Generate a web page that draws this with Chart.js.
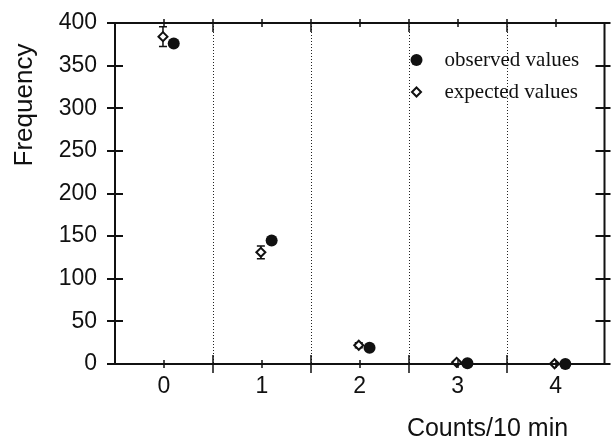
<!DOCTYPE html>
<html>
<head>
<meta charset="utf-8">
<script src="https://cdn.jsdelivr.net/npm/chart.js@4.4.1/dist/chart.umd.min.js"></script>
<style>
  html, body { margin: 0; padding: 0; background: #fff; }
</style>
</head>
<body>
<canvas id="poisson-chart" width="611" height="441"></canvas>
<script>
// ---------------------------------------------------
// DATA
// ---------------------------------------------------
const counts = [ 0, 1, 2, 3, 4 ];
const observedValues = [ 376, 145, 19, 1, 0 ];
const expectedValues = [ 384, 131, 22, 2, 0.3 ];
const expectedErrors = [ 11.5, 7.5, 3, 0.5, 0 ];
const yTicks = [ 0, 50, 100, 150, 200, 250, 300, 350, 400 ];
const separators = [ 0.5, 1.5, 2.5, 3.5 ];
const legendLabels = [ 'observed values', 'expected values' ];
// ---------------------------------------------------
const obsShift = 0.1;
const expShift = -0.01;
const ink = '#111';
// ---------------------------------------------------
const framePlugin = {
    id: 'frame',
    beforeDatasetsDraw( chart ) {
        const { ctx, chartArea: a, scales: { x, y } } = chart;
        ctx.save();
        // dotted separators between counts
        ctx.strokeStyle = '#222';
        ctx.lineWidth = 1;
        ctx.setLineDash( [ 1, 2 ] );
        separators.forEach( v => {
            const px = Math.round( x.getPixelForValue( v ) ) + 0.5;
            ctx.beginPath();
            ctx.moveTo( px, a.top );
            ctx.lineTo( px, a.bottom );
            ctx.stroke();
        });
        ctx.setLineDash( [] );
        // error bars on expected values
        ctx.strokeStyle = ink;
        ctx.lineWidth = 1.5;
        expectedValues.forEach( ( v, i ) => {
            const e = expectedErrors[ i ];
            if ( !e ) return;
            const px = x.getPixelForValue( counts[ i ] + expShift );
            const y1 = y.getPixelForValue( v + e );
            const y2 = y.getPixelForValue( v - e );
            ctx.beginPath();
            ctx.moveTo( px, y1 ); ctx.lineTo( px, y2 );
            ctx.moveTo( px - 4, y1 ); ctx.lineTo( px + 4, y1 );
            ctx.moveTo( px - 4, y2 ); ctx.lineTo( px + 4, y2 );
            ctx.stroke();
        });
        ctx.restore();
    },
    afterDraw( chart ) {
        const { ctx, chartArea: a, scales: { x, y } } = chart;
        ctx.save();
        ctx.strokeStyle = ink;
        ctx.lineWidth = 2;
        ctx.strokeRect( a.left, a.top, a.right - a.left, a.bottom - a.top );
        // y ticks, both sides
        yTicks.forEach( v => {
            const py = Math.round( y.getPixelForValue( v ) );
            ctx.beginPath();
            ctx.moveTo( a.left - 8, py ); ctx.lineTo( a.left + 8, py );
            ctx.moveTo( a.right - 9, py ); ctx.lineTo( a.right + 6, py );
            ctx.stroke();
        });
        // x ticks, top and bottom
        ctx.lineWidth = 1.5;
        counts.forEach( v => {
            const px = Math.round( x.getPixelForValue( v ) );
            ctx.beginPath();
            ctx.moveTo( px, a.bottom - 4 ); ctx.lineTo( px, a.bottom + 4 );
            ctx.moveTo( px, a.top - 4 ); ctx.lineTo( px, a.top + 4 );
            ctx.stroke();
        });
        separators.forEach( v => {
            const px = Math.round( x.getPixelForValue( v ) );
            ctx.beginPath();
            ctx.moveTo( px, a.bottom - 9 ); ctx.lineTo( px, a.bottom + 9 );
            ctx.moveTo( px, a.top - 4 ); ctx.lineTo( px, a.top + 9 );
            ctx.stroke();
        });
        // axis titles
        ctx.fillStyle = ink;
        ctx.font = '25px "Liberation Sans", Arial, sans-serif';
        ctx.textAlign = 'center';
        ctx.textBaseline = 'middle';
        ctx.fillText( 'Counts/10 min', a.right - 117, 429 );
        ctx.font = '26px "Liberation Sans", Arial, sans-serif';
        ctx.translate( 25, a.top + 82 );
        ctx.rotate( -Math.PI / 2 );
        ctx.fillText( 'Frequency', 0, 0 );
        ctx.setTransform( 1, 0, 0, 1, 0, 0 );
        // legend inside plot
        const lx = a.right - 188;
        const ly = [ a.top + 37, a.top + 69 ];
        ctx.beginPath();
        ctx.arc( lx, ly[ 0 ], 6, 0, Math.PI * 2 );
        ctx.fill();
        ctx.beginPath();
        ctx.moveTo( lx, ly[ 1 ] - 4.5 ); ctx.lineTo( lx + 4.5, ly[ 1 ] );
        ctx.lineTo( lx, ly[ 1 ] + 4.5 ); ctx.lineTo( lx - 4.5, ly[ 1 ] );
        ctx.closePath();
        ctx.fillStyle = '#fff';
        ctx.fill();
        ctx.lineWidth = 2;
        ctx.stroke();
        ctx.fillStyle = ink;
        ctx.font = '21px "Liberation Serif", "Times New Roman", serif';
        ctx.textAlign = 'left';
        legendLabels.forEach( ( t, i ) => ctx.fillText( t, lx + 28, ly[ i ] ) );
        ctx.restore();
    }
};
// ---------------------------------------------------
window.addEventListener( 'load', function () {
    const canvas = document.querySelector( '#poisson-chart' );
    new Chart( canvas, {
        type: 'scatter',
        data: {
            datasets: [
                {
                    label: legendLabels[ 1 ],
                    data: counts.map( ( c, i ) => ({ x: c + expShift, y: expectedValues[ i ] }) ),
                    pointStyle: 'rectRot',
                    radius: 4.5,
                    backgroundColor: '#fff',
                    borderColor: ink,
                    borderWidth: 2,
                    clip: false
                },
                {
                    label: legendLabels[ 0 ],
                    data: counts.map( ( c, i ) => ({ x: c + obsShift, y: observedValues[ i ] }) ),
                    pointStyle: 'circle',
                    radius: 6,
                    backgroundColor: ink,
                    borderColor: ink,
                    borderWidth: 0,
                    clip: false
                }
            ]
        },
        options: {
            responsive: false,
            animation: false,
            layout: { padding: { top: 23, right: 6, left: 0, bottom: 0 } },
            plugins: { legend: { display: false }, tooltip: { enabled: false } },
            scales: {
                x: {
                    type: 'linear',
                    min: -0.5,
                    max: 4.5,
                    afterBuildTicks: axis => { axis.ticks = counts.map( v => ({ value: v }) ); },
                    afterFit: axis => {
                        axis.height = 77;
                        axis.paddingLeft = 0;
                        axis.paddingRight = 0;
                    },
                    grid: { display: false, drawTicks: false },
                    border: { display: false },
                    ticks: {
                        padding: 9,
                        color: ink,
                        maxRotation: 0,
                        font: { family: '"Liberation Sans", Arial, sans-serif', size: 23 }
                    }
                },
                y: {
                    min: 0,
                    max: 400,
                    afterBuildTicks: axis => { axis.ticks = yTicks.map( v => ({ value: v }) ); },
                    afterFit: axis => {
                        axis.width = 115;
                        axis.paddingTop = 0;
                        axis.paddingBottom = 0;
                    },
                    grid: { display: false, drawTicks: false },
                    border: { display: false },
                    ticks: {
                        padding: 18,
                        color: ink,
                        font: { family: '"Liberation Sans", Arial, sans-serif', size: 23 }
                    }
                }
            }
        },
        plugins: [ framePlugin ]
    });
}, false );
</script>
</body>
</html>
